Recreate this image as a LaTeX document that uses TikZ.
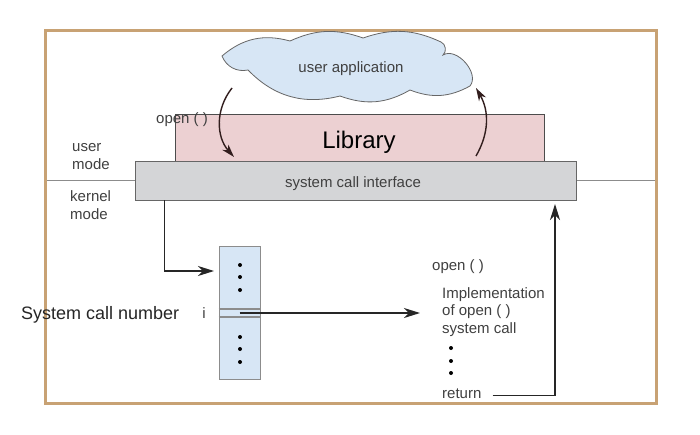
\documentclass[tikz,border=0pt]{standalone}
\usepackage{fontspec}
\setmainfont{Liberation Sans}
\usetikzlibrary{positioning}
\usetikzlibrary{calc}
\usetikzlibrary{arrows.meta}

\definecolor{frametan}{RGB}{200,162,116}
\definecolor{cloudblue}{RGB}{215,230,245}
\definecolor{libpink}{RGB}{236,208,210}
\definecolor{scigray}{RGB}{212,213,215}
\definecolor{labelgray}{RGB}{64,64,64}
\definecolor{curvebrown}{RGB}{50,30,30}

\begin{document}
\begin{tikzpicture}[x=1pt, y=1pt,
    label/.style={inner sep=0pt, text=labelgray, font=\fontsize{15}{17.5}\selectfont},
    bigtext/.style={inner sep=0pt, text=black!85, font=\fontsize{18}{21}\selectfont},
    box/.style={draw=black!60, inner sep=0pt, line width=0.8pt},
    callarrow/.style={draw, black!85, line width=1.4pt, -{Stealth[length=16pt, width=10pt, inset=5pt]}},
    curvearrow/.style={draw, curvebrown, line width=1.4pt, -{Stealth[length=13pt, width=8pt, inset=4pt]}}]

\useasboundingbox (0,0) rectangle (700,-434);
\fill[white] (0,0) rectangle (700,-434);

% user / kernel border and frame
\path[draw, black!45, line width=0.8pt] (45,-180) -- (657,-180);
\path[draw, frametan, line width=3pt] (45.5,-30.5) rectangle (656.5,-403);

% cloud
\path[draw=black!60, line width=0.8pt, fill=cloudblue]
    (222,-56) to[bend left=28] (290,-41) to[bend left=22] (363,-38)
    to[bend left=22] (441,-42) to[bend left=60] (443,-55)
    to[bend left=80] (470,-86) to[bend left=25] (410,-90)
    to[bend left=25] (340,-96) to[bend left=30] (248,-70)
    to[bend left=40] cycle;
\node[label, anchor=base] (app) at (351,-72) {user application};

\node[box, draw=black!70, fill=libpink, minimum width=369pt, minimum height=47pt] (library) at (359.5,-137.5) {};
\node[inner sep=0pt, font=\fontsize{24}{28}\selectfont, anchor=base] (libtext) at (359,-148.5) {Library};
\node[box, fill=scigray, minimum width=441pt, minimum height=39pt] (sci) at (355.5,-180.5) {};
\node[label, anchor=base] (scitext) at (353,-187) {system call interface};

\node[label, anchor=base west] (opencall) at (156,-123) {open ( )};
\node[label, anchor=west, align=left] (usermode) at (72,-156.5) {user\\mode};
\node[label, anchor=west, align=left] (kernelmode) at (70,-205) {kernel\\mode};

\coordinate (callout) at (232,-88);
\coordinate (callin) at (234,-157);
\coordinate (retout) at (476,-156);
\coordinate (retin) at (476,-88);
\path[curvearrow] (callout) to[bend right=40] (callin);
\path[curvearrow] (retout) to[bend right=30] (retin);

% system call table
\node[box, draw=black!45, fill=cloudblue, minimum width=41pt, minimum height=133pt] (table) at (239.5,-312.5) {};
\coordinate (entry) at (239.5,-313);
\path[draw, black!45, line width=1.2pt] (table.west |- 0,-309) -- (table.east |- 0,-309);
\path[draw, black!45, line width=1.2pt] (table.west |- 0,-317) -- (table.east |- 0,-317);
\foreach \y in {265,277,290,337,349,362}
    \fill (240,-\y) circle (2pt);

\node[bigtext, anchor=base west] (callnum) at (21,-319) {System call number};
\node[label, anchor=base] (index) at (204,-318) {i};

\node[label, anchor=base west] (openimpl) at (432,-270) {open ( )};
\node[label, anchor=west, align=left] (impl) at (442,-311.75) {Implementation\\of open ( )\\system call};
\foreach \y in {348,361,373}
    \fill (451,-\y) circle (2pt);
\node[label, anchor=base west] (ret) at (442,-398) {return};

\coordinate (scidown) at ($(sci.south west)+(30,0)$);
\coordinate (tablein) at (214,-271);
\coordinate (sciback) at (555,-204);
\path[callarrow] (scidown) |- (tablein);
\path[callarrow, shorten >=22pt] (entry) -- (entry -| impl.west);
\path[callarrow] ([xshift=11pt, yshift=-2pt]ret.east) -| (sciback);

\end{tikzpicture}
\end{document}
